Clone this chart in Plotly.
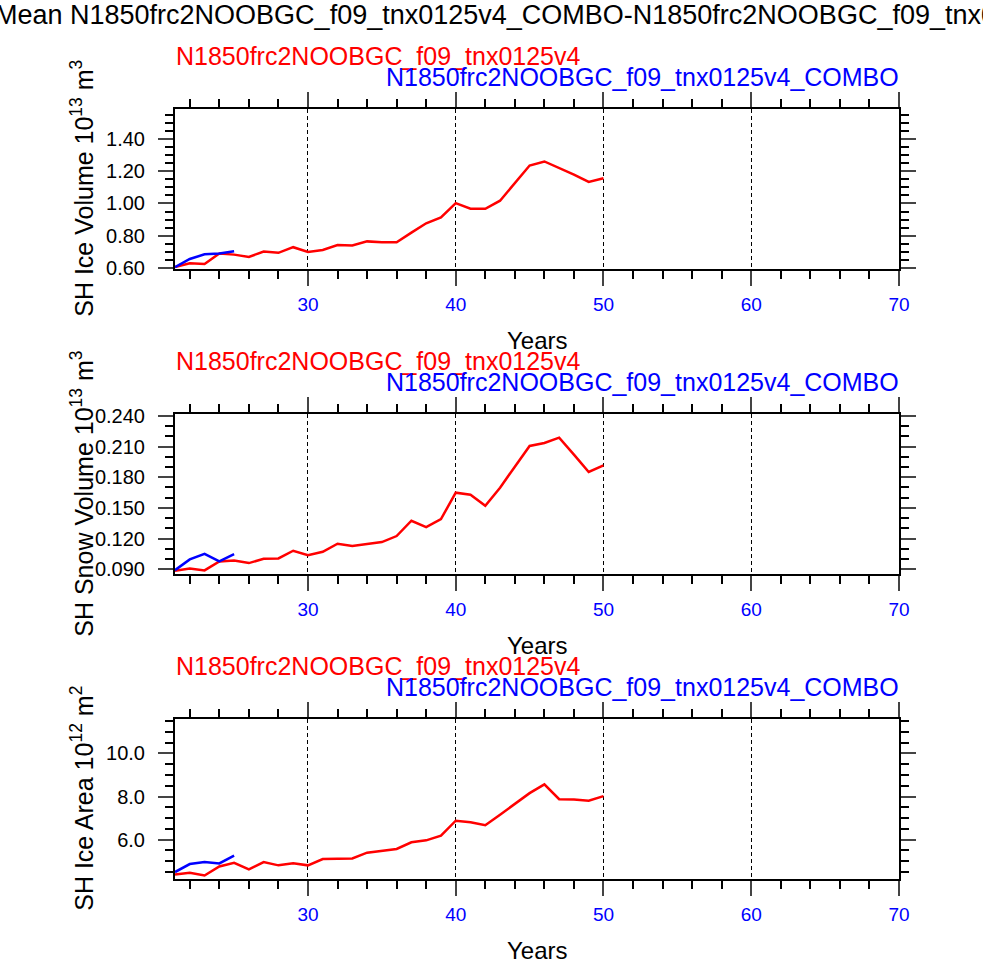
import plotly.graph_objects as go

# years on the x axis
years_case = list(range(21, 51))
years_combo = [21, 22, 23, 24, 25]

case_name = "N1850frc2NOOBGC_f09_tnx0125v4"
combo_name = "N1850frc2NOOBGC_f09_tnx0125v4_COMBO"

# SH ice volume (10^13 m^3)
vol_case = [0.606, 0.629, 0.625, 0.690, 0.683, 0.669, 0.702, 0.694, 0.729, 0.700,
            0.712, 0.742, 0.740, 0.765, 0.760, 0.760, 0.819, 0.877, 0.913, 1.002,
            0.967, 0.967, 1.017, 1.125, 1.235, 1.260, 1.221, 1.179, 1.133, 1.156]
vol_combo = [0.606, 0.656, 0.685, 0.690, 0.704]

# SH snow volume (10^13 m^3)
snow_case = [0.0884, 0.0907, 0.0887, 0.0975, 0.0985, 0.0959, 0.1001, 0.1005, 0.1080, 0.1037,
             0.1070, 0.1149, 0.1126, 0.1145, 0.1165, 0.1224, 0.1374, 0.1312, 0.1390, 0.1649,
             0.1629, 0.1521, 0.1698, 0.1904, 0.2107, 0.2136, 0.2188, 0.2022, 0.1852, 0.1917]
snow_combo = [0.0890, 0.0995, 0.1050, 0.0975, 0.1047]

# SH ice area (10^12 m^2)
area_case = [4.39, 4.47, 4.34, 4.76, 4.93, 4.62, 4.96, 4.81, 4.91, 4.81,
             5.10, 5.10, 5.13, 5.40, 5.49, 5.57, 5.88, 5.97, 6.19, 6.88,
             6.81, 6.67, 7.16, 7.67, 8.16, 8.57, 7.88, 7.86, 7.81, 8.02]
area_combo = [4.50, 4.87, 4.96, 4.90, 5.26]

y_titles = ["SH Ice Volume 10<sup>13</sup> m<sup>3</sup>",
            "SH Snow Volume 10<sup>13</sup> m<sup>3</sup>",
            "SH Ice Area 10<sup>12</sup> m<sup>2</sup>"]

W, H = 983, 966
FONT = "Liberation Sans, Arial, Helvetica, sans-serif"


def px_x(p):
    return p / W


def px_y(p):
    return 1 - p / H


def note(text, x, y, xanchor, size, color, angle=0):
    # text placed by pixel position on the page
    return dict(text=text, xref="paper", yref="paper", x=px_x(x), y=px_y(y),
                xanchor=xanchor, yanchor="middle", showarrow=False, textangle=angle,
                font=dict(size=size, color=color, family=FONT))


panels = [
    dict(case=vol_case, combo=vol_combo, rng=[0.597, 1.585], dtick=0.2, minor=0.05, fmt=".2f"),
    dict(case=snow_case, combo=snow_combo, rng=[0.0857, 0.242], dtick=0.03, minor=0.01, fmt=".3f"),
    dict(case=area_case, combo=area_combo, rng=[4.2, 11.6], dtick=2, minor=0.5, fmt=".1f"),
]

fig = go.Figure()
annotations = []
left, right = 175, 899
step = 305
for i, p in enumerate(panels):
    n = "" if i == 0 else str(i + 1)
    top = 109 + i * step
    bot = 268.5 + i * step
    fig.add_trace(go.Scatter(x=years_case, y=p["case"], mode="lines",
                             line=dict(color="red", width=2.5),
                             xaxis="x" + n, yaxis="y" + n, showlegend=False))
    fig.add_trace(go.Scatter(x=years_combo, y=p["combo"], mode="lines",
                             line=dict(color="blue", width=2.5),
                             xaxis="x" + n, yaxis="y" + n, showlegend=False))
    fig.update_layout(**{
        "xaxis" + n: dict(
            domain=[px_x(left), px_x(right)], anchor="y" + n, range=[21, 70],
            tick0=0, dtick=10, ticks="outside", ticklen=15, tickwidth=2,
            showline=True, linewidth=2, linecolor="black", mirror="ticks",
            showgrid=True, gridcolor="black", gridwidth=1, griddash="4px,3px",
            zeroline=False, ticklabelstandoff=3,
            tickfont=dict(size=19, color="blue", family=FONT),
            minor=dict(dtick=2, tick0=0, ticks="outside", ticklen=8, tickwidth=1.5,
                       tickcolor="black", showgrid=False),
        ),
        "yaxis" + n: dict(
            domain=[px_y(bot), px_y(top)], anchor="x" + n, range=p["rng"],
            tick0=0, dtick=p["dtick"], tickformat=p["fmt"],
            ticks="outside", ticklen=15, tickwidth=2,
            showline=True, linewidth=2, linecolor="black", mirror="ticks",
            showgrid=False, zeroline=False, ticklabelstandoff=9,
            tickfont=dict(size=20, color="black", family=FONT),
            minor=dict(dtick=p["minor"], tick0=0, ticks="outside", ticklen=8,
                       tickwidth=1.5, tickcolor="black", showgrid=False),
        ),
    })
    # case names above each panel
    annotations.append(note(case_name, left - 1, 56 + i * step, "left", 25, "red"))
    annotations.append(note(combo_name, right + 2, 77 + i * step, "right", 25, "blue"))
    annotations.append(note("Years", (left + right) / 2, 340 + i * step, "center", 24, "black"))
    annotations.append(note(y_titles[i], 82, (top + bot) / 2, "center", 25, "black", -90))

annotations.append(note("Mean " + combo_name + "-" + case_name, -7, 15, "left", 27, "black"))

fig.update_layout(
    width=W, height=H, autosize=False,
    margin=dict(l=0, r=0, t=0, b=0, autoexpand=False),
    paper_bgcolor="white", plot_bgcolor="white",
    font=dict(family=FONT, color="black"),
    annotations=annotations,
    showlegend=False,
)

# no page margin, so the figure fills the window exactly
fig.write_html("out.html", config={"displayModeBar": False},
               post_script="document.body.style.margin='0px';")
